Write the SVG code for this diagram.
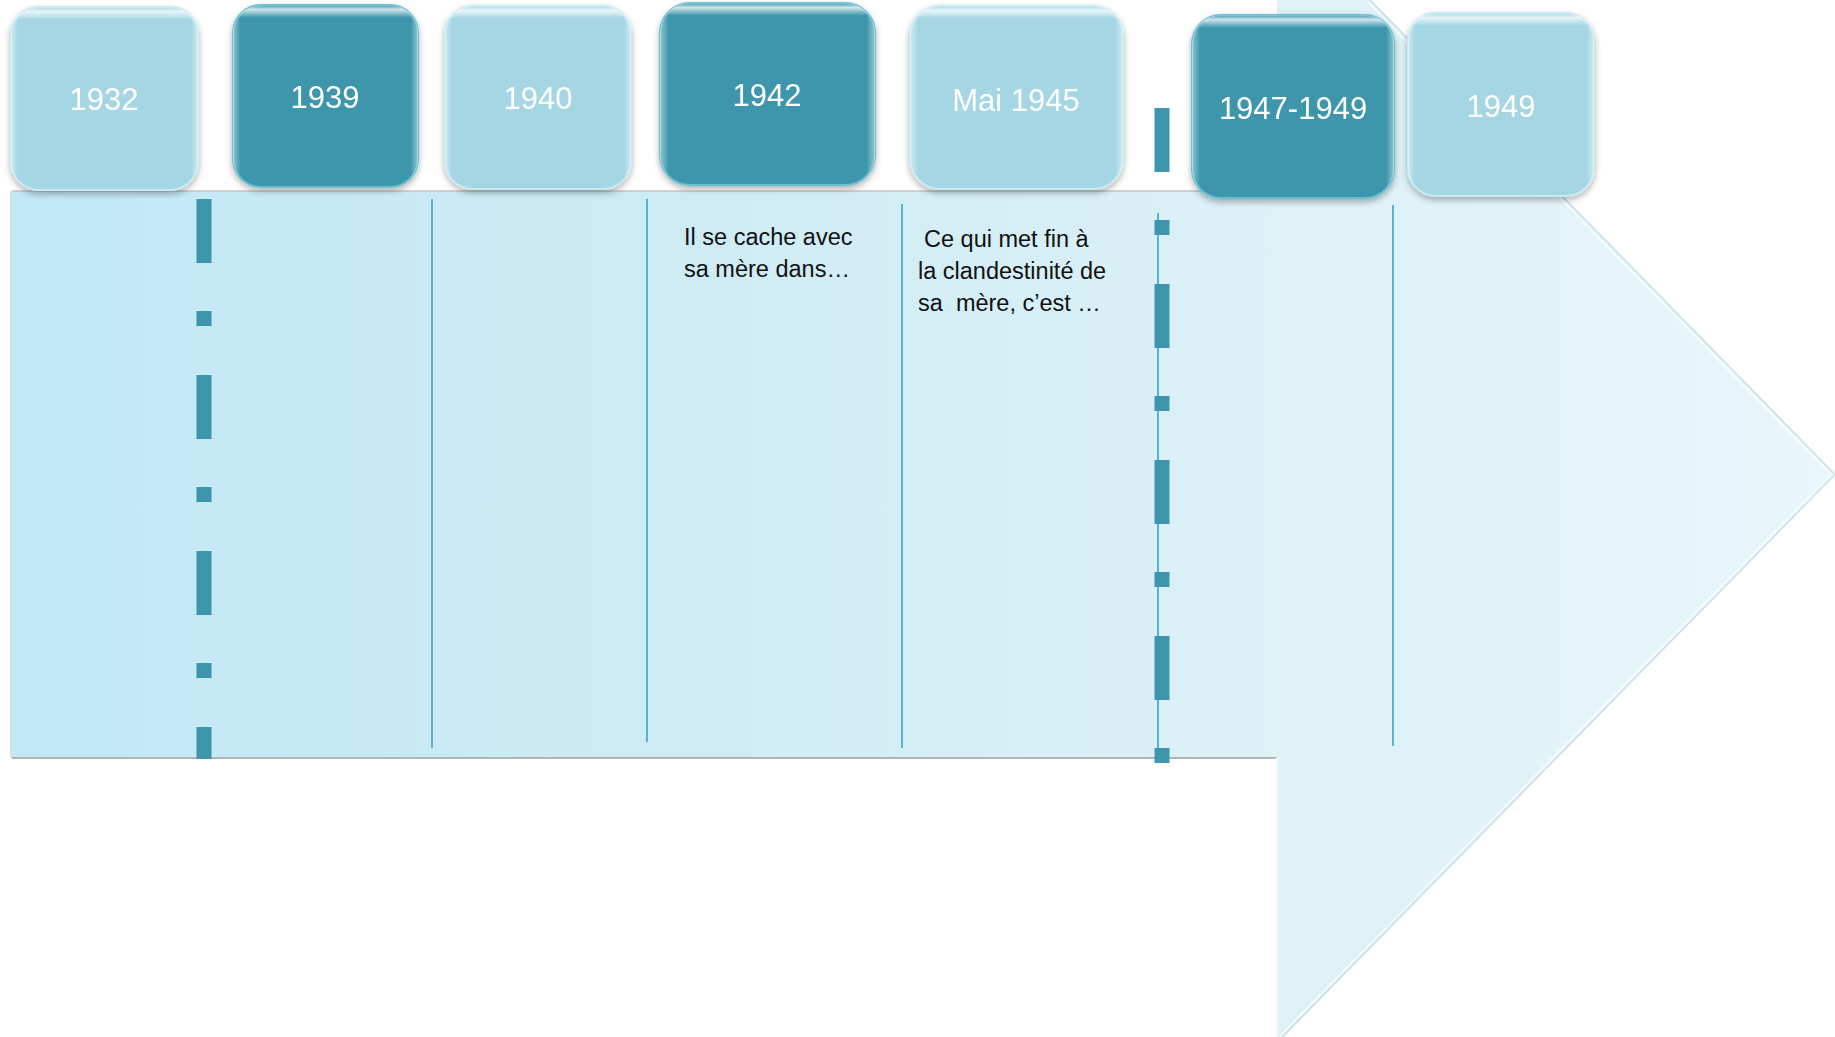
<svg xmlns="http://www.w3.org/2000/svg" width="1835" height="1037" viewBox="0 0 1835 1037">
<defs>
  <linearGradient id="arrowFill" gradientUnits="userSpaceOnUse" x1="12" y1="0" x2="1835" y2="0">
    <stop offset="0" stop-color="#c2e8f6"/>
    <stop offset="0.35" stop-color="#cdebf4"/>
    <stop offset="0.7" stop-color="#ddf1f7"/>
    <stop offset="1" stop-color="#e9f6fa"/>
  </linearGradient>
  <linearGradient id="gloss" x1="0" y1="0" x2="0" y2="1">
    <stop offset="0" stop-color="#ffffff" stop-opacity="0"/>
    <stop offset="0.025" stop-color="#ffffff" stop-opacity="0.75"/>
    <stop offset="0.07" stop-color="#ffffff" stop-opacity="0"/>
    <stop offset="1" stop-color="#ffffff" stop-opacity="0"/>
  </linearGradient>
  <linearGradient id="sideGloss" x1="0" y1="0" x2="1" y2="0">
    <stop offset="0" stop-color="#ffffff" stop-opacity="0.45"/>
    <stop offset="0.04" stop-color="#ffffff" stop-opacity="0"/>
    <stop offset="0.96" stop-color="#ffffff" stop-opacity="0"/>
    <stop offset="1" stop-color="#ffffff" stop-opacity="0.45"/>
  </linearGradient>
  <filter id="shadow" x="-10%" y="-10%" width="120%" height="125%">
    <feDropShadow dx="0" dy="3" stdDeviation="3" flood-color="#000000" flood-opacity="0.3"/>
  </filter>
  <style>
    .light { fill: #a4d6e3; stroke: #c6eaf3; stroke-width: 2; }
    .dark { fill: #3d96ab; stroke: #6bbfd3; stroke-width: 2; }
    .gl { fill: url(#gloss); }
    .sg { fill: url(#sideGloss); }
    .label { font-family: "Liberation Sans", Arial, sans-serif; font-size: 31px; fill: #ffffff; text-anchor: middle; }
    .body { font-family: "Liberation Sans", Arial, sans-serif; font-size: 23.5px; fill: #111111; }
    .thin { stroke: #5ab4cc; stroke-width: 2; fill: none; }
    .dash { stroke: #3d96ab; stroke-width: 15; fill: none; stroke-dasharray: 64 48 15 49; }
  </style>
</defs>
<rect width="1835" height="1037" fill="#ffffff"/>

<g id="arrow">
  <path d="M12,191 L1277,191 L1277,-95 L1835,474.5 L1277,1044 L1277,758 L12,758 Z" fill="url(#arrowFill)"/>
  <path d="M1370,0 L1835,474.5 L1282,1037" fill="none" stroke="#c9dfe6" stroke-width="1.5"/>
  <path d="M1368,2 L1831,474.5 L1280,1036" fill="none" stroke="#f4fbfd" stroke-width="2"/>
  <path d="M12,191 L1277,191" stroke="#c4c4c4" stroke-width="1.5" fill="none"/>
  <path d="M12,758 L1277,758" stroke="#b4b4b4" stroke-width="2" fill="none"/>
  <path d="M11,191 L11,758" stroke="#c8d8de" stroke-width="1.5" fill="none"/>
  <path d="M1277,758 L1277,1037" stroke="#f2f9fb" stroke-width="3" fill="none"/>
</g>

<g id="connectors">
  <line class="thin" x1="432" y1="199" x2="432" y2="748"/>
  <line class="thin" x1="647" y1="199" x2="647" y2="742"/>
  <line class="thin" x1="902" y1="204" x2="902" y2="748"/>
  <line class="thin" x1="1158" y1="213" x2="1158" y2="758"/>
  <line class="thin" x1="1393" y1="205" x2="1393" y2="746"/>
  <line class="dash" x1="204" y1="199" x2="204" y2="759"/>
  <line class="dash" x1="1162" y1="108" x2="1162" y2="763"/>
</g>

<g id="node-1932" filter="url(#shadow)">
  <rect class="light" x="11" y="7" width="187" height="183" rx="28"/>
  <rect class="gl" x="11" y="7" width="187" height="183" rx="28"/>
  <rect class="sg" x="11" y="7" width="187" height="183" rx="28"/>
  <text class="label" x="104" y="110">1932</text>
</g>
<g id="node-1939" filter="url(#shadow)">
  <rect class="dark" x="233" y="5" width="185" height="182" rx="28"/>
  <rect class="gl" x="233" y="5" width="185" height="182" rx="28"/>
  <rect class="sg" x="233" y="5" width="185" height="182" rx="28"/>
  <text class="label" x="325" y="108">1939</text>
</g>
<g id="node-1940" filter="url(#shadow)">
  <rect class="light" x="445" y="6" width="186" height="183" rx="28"/>
  <rect class="gl" x="445" y="6" width="186" height="183" rx="28"/>
  <rect class="sg" x="445" y="6" width="186" height="183" rx="28"/>
  <text class="label" x="538" y="109">1940</text>
</g>
<g id="node-1942" filter="url(#shadow)">
  <rect class="dark" x="660" y="3" width="215" height="182" rx="30"/>
  <rect class="gl" x="660" y="3" width="215" height="182" rx="30"/>
  <rect class="sg" x="660" y="3" width="215" height="182" rx="30"/>
  <text class="label" x="767" y="106">1942</text>
</g>
<g id="node-mai1945" filter="url(#shadow)">
  <rect class="light" x="910" y="6" width="213" height="183" rx="30"/>
  <rect class="gl" x="910" y="6" width="213" height="183" rx="30"/>
  <rect class="sg" x="910" y="6" width="213" height="183" rx="30"/>
  <text class="label" x="1016" y="111">Mai 1945</text>
</g>
<g id="node-1947-1949" filter="url(#shadow)">
  <rect class="dark" x="1192" y="15" width="202" height="183" rx="29"/>
  <rect class="gl" x="1192" y="15" width="202" height="183" rx="29"/>
  <rect class="sg" x="1192" y="15" width="202" height="183" rx="29"/>
  <text class="label" x="1293" y="119">1947-1949</text>
</g>
<g id="node-1949" filter="url(#shadow)">
  <rect class="light" x="1408" y="13" width="186" height="183" rx="28"/>
  <rect class="gl" x="1408" y="13" width="186" height="183" rx="28"/>
  <rect class="sg" x="1408" y="13" width="186" height="183" rx="28"/>
  <text class="label" x="1501" y="117">1949</text>
</g>

<g id="note-1942">
  <text class="body" x="684" y="245">Il se cache avec</text>
  <text class="body" x="684" y="277">sa mère dans…</text>
</g>
<g id="note-1945">
  <text class="body" x="924" y="247">Ce qui met fin à</text>
  <text class="body" x="918" y="279">la clandestinité de</text>
  <text class="body" x="918" y="311" xml:space="preserve">sa  mère, c’est …</text>
</g>
</svg>
